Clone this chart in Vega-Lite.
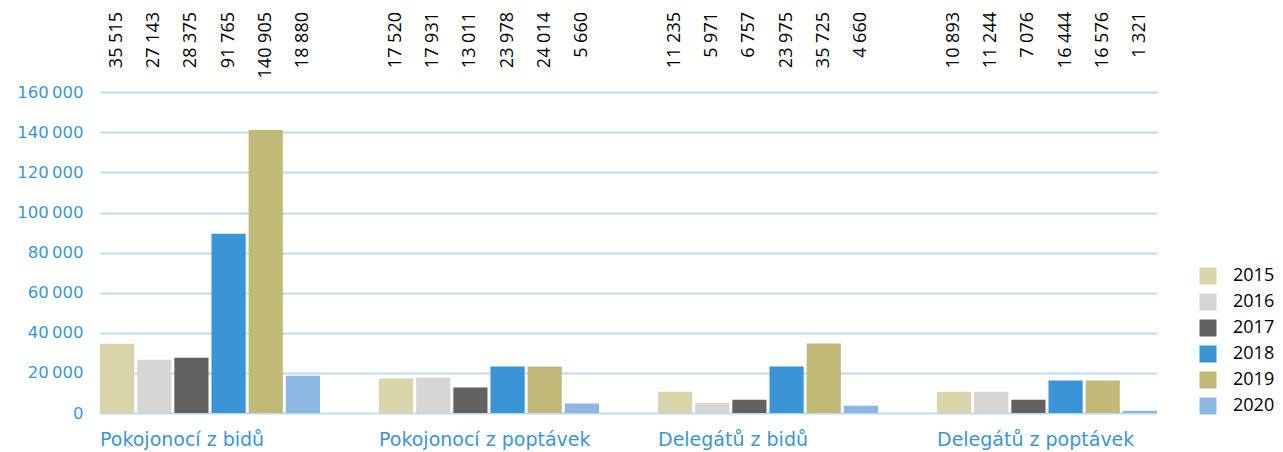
{
  "$schema": "https://vega.github.io/schema/vega-lite/v6.json",
  "autosize": {"type": "none"},
  "width": 1057,
  "height": 401,
  "padding": {"left": 100, "top": 12, "right": 126, "bottom": 39},
  "background": "white",
  "config": {"view": {"stroke": null}},
  "data": {
    "values": [
      {"category": "Pokojonocí z bidů", "year": "2015", "value": 34550, "label": "35 515"},
      {"category": "Pokojonocí z bidů", "year": "2016", "value": 26600, "label": "27 143"},
      {"category": "Pokojonocí z bidů", "year": "2017", "value": 27550, "label": "28 375"},
      {"category": "Pokojonocí z bidů", "year": "2018", "value": 89350, "label": "91 765"},
      {"category": "Pokojonocí z bidů", "year": "2019", "value": 141150, "label": "140 905"},
      {"category": "Pokojonocí z bidů", "year": "2020", "value": 18600, "label": "18 880"},
      {"category": "Pokojonocí z poptávek", "year": "2015", "value": 17250, "label": "17 520"},
      {"category": "Pokojonocí z poptávek", "year": "2016", "value": 17750, "label": "17 931"},
      {"category": "Pokojonocí z poptávek", "year": "2017", "value": 12750, "label": "13 011"},
      {"category": "Pokojonocí z poptávek", "year": "2018", "value": 23250, "label": "23 978"},
      {"category": "Pokojonocí z poptávek", "year": "2019", "value": 23250, "label": "24 014"},
      {"category": "Pokojonocí z poptávek", "year": "2020", "value": 4750, "label": "5 660"},
      {"category": "Delegátů z bidů", "year": "2015", "value": 10650, "label": "11 235"},
      {"category": "Delegátů z bidů", "year": "2016", "value": 5150, "label": "5 971"},
      {"category": "Delegátů z bidů", "year": "2017", "value": 6650, "label": "6 757"},
      {"category": "Delegátů z bidů", "year": "2018", "value": 23150, "label": "23 975"},
      {"category": "Delegátů z bidů", "year": "2019", "value": 34650, "label": "35 725"},
      {"category": "Delegátů z bidů", "year": "2020", "value": 3650, "label": "4 660"},
      {"category": "Delegátů z poptávek", "year": "2015", "value": 10650, "label": "10 893"},
      {"category": "Delegátů z poptávek", "year": "2016", "value": 10650, "label": "11 244"},
      {"category": "Delegátů z poptávek", "year": "2017", "value": 6650, "label": "7 076"},
      {"category": "Delegátů z poptávek", "year": "2018", "value": 16150, "label": "16 444"},
      {"category": "Delegátů z poptávek", "year": "2019", "value": 16150, "label": "16 576"},
      {"category": "Delegátů z poptávek", "year": "2020", "value": 1150, "label": "1 321"}
    ]
  },
  "encoding": {
    "x": {
      "field": "category",
      "type": "nominal",
      "sort": null,
      "scale": {"paddingInner": 0.2115, "paddingOuter": 0},
      "axis": {
        "title": null,
        "labelAlign": "left",
        "labelOffset": -110,
        "labelLimit": 0,
        "labelAngle": 0,
        "labelBaseline": "top",
        "labelPadding": 17,
        "ticks": false,
        "domain": false,
        "grid": false,
        "labelFont": "DejaVu Sans",
        "labelFontSize": 19,
        "labelColor": "#3b96d6"
      }
    },
    "xOffset": {
      "field": "year",
      "type": "nominal",
      "sort": null,
      "scale": {"paddingInner": 0.08, "paddingOuter": 0}
    }
  },
  "layer": [
    {
      "mark": {"type": "bar"},
      "encoding": {
        "y": {
          "field": "value",
          "type": "quantitative",
          "scale": {"domain": [0, 200000], "nice": false},
          "axis": {
            "title": null,
            "values": [0, 20000, 40000, 60000, 80000, 100000, 120000, 140000, 160000],
            "labelExpr": "replace(format(datum.value, ','), ',', '\u2009')",
            "ticks": false,
            "domain": false,
            "labelPadding": 17,
            "labelFont": "DejaVu Sans",
            "labelFontSize": 16.5,
            "labelColor": "#3b96d6",
            "gridColor": "#bcdbf1",
            "gridWidth": 2
          }
        },
        "color": {
          "field": "year",
          "type": "nominal",
          "scale": {
            "domain": ["2015", "2016", "2017", "2018", "2019", "2020"],
            "range": ["#d9d4a9", "#d6d6d6", "#626262", "#3a95d6", "#c0b978", "#8db7e3"]
          },
          "legend": {
            "title": null,
            "orient": "none",
            "legendX": 1099,
            "legendY": 255,
            "symbolType": "square",
            "symbolSize": 289,
            "symbolStrokeWidth": 0,
            "symbolOpacity": 1,
            "rowPadding": 8,
            "labelOffset": 16,
            "labelFont": "Open Sans",
            "labelFontSize": 18,
            "labelColor": "#000000",
            "padding": 0
          }
        }
      }
    },
    {
      "mark": {
        "type": "text",
        "angle": 270,
        "align": "right",
        "baseline": "middle",
        "font": "Open Sans",
        "fontSize": 18,
        "color": "#000000"
      },
      "encoding": {
        "y": {"datum": 200000, "type": "quantitative"},
        "text": {"field": "label", "type": "nominal"}
      }
    }
  ]
}
